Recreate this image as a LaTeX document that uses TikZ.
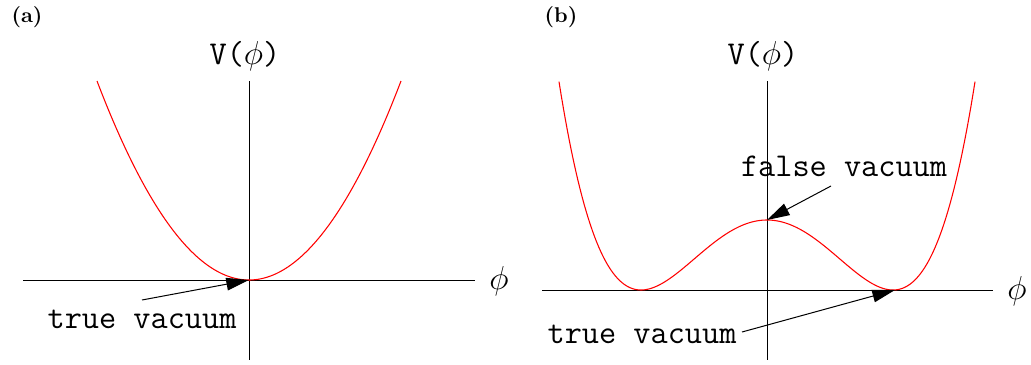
\documentclass[tikz,border=0pt]{standalone}
\usepackage{fontspec}
\usetikzlibrary{arrows.meta}
\begin{document}
\begin{tikzpicture}[x=0.75pt,y=-0.75pt,
  axis/.style={black,line width=0.75pt},
  pot/.style={red,line width=0.8pt},
  arr/.style={line width=0.75pt,-{Triangle[length=17pt,width=9.5pt]}},
  lbl/.style={font=\fontsize{25}{29}\selectfont\ttfamily,inner sep=0pt},
  phil/.style={inner sep=0pt,font=\fontsize{24}{28}\selectfont},
  panellbl/.style={inner sep=0pt}]
\useasboundingbox (0,0) rectangle (1031,364);
% ---------- panel (a) ----------
\node[panellbl] (pa) at (27,17) {\scalebox{1.6}{\textbf{(a)}}};
\coordinate (a0) at (249,280);
\draw[axis] (23,280) -- (475,280);
\draw[axis] (249,81) -- (249,360);
\node[lbl] (va) at (245,56) {V($\phi$)};
\node[phil] (pha) at (499,281) {$\phi$};
\draw[pot] plot[domain=-152:152,samples=120] ({249+\x},{280-199*(\x/152)^2});
\node[lbl] (tva) at (142,319) {true vacuum};
\coordinate (tvas) at (142,300);
\draw[arr] (tvas) -- (a0);
% ---------- panel (b) ----------
\node[panellbl] (pb) at (561,17) {\scalebox{1.6}{\textbf{(b)}}};
\coordinate (bmax) at (767,220);
\coordinate (bmin) at (895,290);
\draw[axis] (542,290) -- (993,290);
\draw[axis] (767,81) -- (767,360);
\node[lbl] (vb) at (763,56) {V($\phi$)};
\node[phil] (phb) at (1017,291) {$\phi$};
\draw[pot] plot[domain=-208:208,samples=200] ({767+\x},{290-70*(1-(\x/126)^2)^2});
\node[lbl] (fvb) at (844,166) {false vacuum};
\coordinate (fvbs) at (831,186);
\draw[arr] (fvbs) -- (bmax);
\node[lbl] (tvb) at (642,334) {true vacuum};
\coordinate (tvbs) at (742,332);
\draw[arr] (tvbs) -- (bmin);
\end{tikzpicture}
\end{document}
